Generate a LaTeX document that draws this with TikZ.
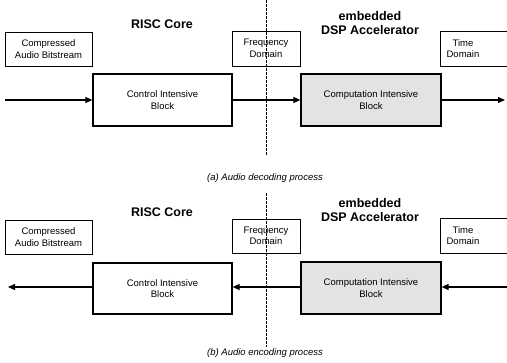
\documentclass[tikz,border=0pt]{standalone}
\usepackage{fontspec}
\setmainfont{Liberation Sans}
\usepackage{tikz}
\usetikzlibrary{arrows.meta, positioning}

\tikzset{
  smallbox/.style={draw, line width=0.7pt, inner sep=0pt, align=center,
                   font=\fontsize{9.5}{11.5}\selectfont},
  bigbox/.style={draw, line width=1.2pt, inner sep=0pt, align=center,
                 minimum width=139pt, minimum height=52pt,
                 font=\fontsize{9.5}{11.5}\selectfont},
  dspfill/.style={fill=gray!22},
  flow/.style={line width=1.2pt, -{Triangle[length=7pt,width=6pt]}},
  divider/.style={line width=1pt, dash pattern=on 3pt off 1pt},
  header/.style={font=\fontsize{12.5}{14}\selectfont\bfseries, align=center},
  caption/.style={font=\fontsize{9.5}{11}\selectfont\itshape}
}

\begin{document}
\begin{tikzpicture}[x=1pt, y=-1pt]
  \useasboundingbox (0,0) rectangle (507,363);
  \clip (0,0) rectangle (507,363);

  % (a) decoding
  \node[header] (riscA) at (162,24) {RISC Core};
  \node[header] (dspA) at (370,23) {embedded\\DSP Accelerator};
  \node[smallbox, minimum width=87pt, minimum height=34pt] (cmpA) at (48.5,49)
       {Compressed\\Audio Bitstream};
  \node[smallbox, minimum width=68pt, minimum height=35pt] (freqA) at (266,48.5)
       {Frequency\\Domain};
  \draw[line width=0.7pt] (440,31) rectangle (512,66);
  \node[align=center, font=\fontsize{9.5}{11.5}\selectfont] (timeA) at (463,48.5)
       {Time\\Domain};
  \node[bigbox] (ctrlA) at (162.5,100) {Control Intensive\\Block};
  \node[bigbox, dspfill, minimum width=140pt] (compA) at (371,100)
       {Computation Intensive\\Block};
  \coordinate (inA) at (5,100);
  \coordinate (outA) at (505,100);
  \draw[flow] (inA) -- (ctrlA.west);
  \draw[flow] (ctrlA.east) -- (compA.west);
  \draw[flow] (compA.east) -- (outA);
  \draw[divider] (266,0) -- (266,156);
  \node[caption] (capA) at (265,178) {(a) Audio decoding process};

  % (b) encoding
  \node[header] (riscB) at (162,212) {RISC Core};
  \node[header] (dspB) at (370,210) {embedded\\DSP Accelerator};
  \node[smallbox, minimum width=87pt, minimum height=34pt] (cmpB) at (48.5,237)
       {Compressed\\Audio Bitstream};
  \node[smallbox, minimum width=68pt, minimum height=34pt] (freqB) at (266,236)
       {Frequency\\Domain};
  \draw[line width=0.7pt] (440,218) rectangle (512,253);
  \node[align=center, font=\fontsize{9.5}{11.5}\selectfont] (timeB) at (463,235.5)
       {Time\\Domain};
  \node[bigbox, minimum height=51pt] (ctrlB) at (162.5,288.5) {Control Intensive\\Block};
  \node[bigbox, dspfill, minimum width=140pt] (compB) at (371,288)
       {Computation Intensive\\Block};
  \coordinate (inB) at (507,287);
  \coordinate (outB) at (8,287);
  \draw[flow] (inB) -- (compB.east |- inB);
  \draw[flow] (compB.west |- inB) -- (ctrlB.east |- inB);
  \draw[flow] (ctrlB.west |- inB) -- (outB);
  \draw[divider] (266,193) -- (266,347);
  \node[caption] (capB) at (265,353) {(b) Audio encoding process};
\end{tikzpicture}
\end{document}
